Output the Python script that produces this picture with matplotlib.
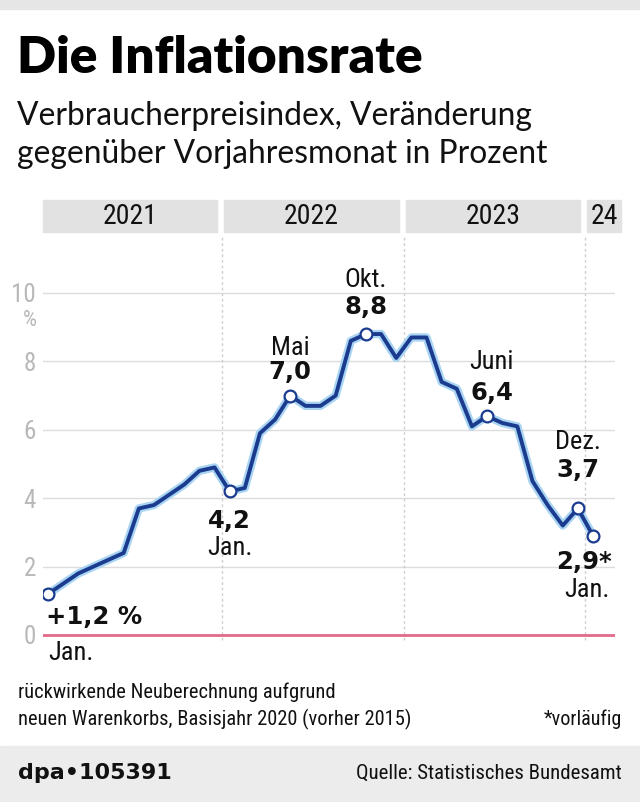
import matplotlib
matplotlib.use("Agg")
import matplotlib.pyplot as plt
import matplotlib.patheffects as pe
from matplotlib import font_manager
from matplotlib.patches import Rectangle

# --- data: Verbraucherpreisindex, Veraenderung zum Vorjahresmonat (%) ---
# monthly, Jan 2021 ... Jan 2024
rate_2021 = [1.2, 1.5, 1.8, 2.0, 2.2, 2.4, 3.7, 3.8, 4.1, 4.4, 4.8, 4.9]
rate_2022 = [4.2, 4.3, 5.9, 6.3, 7.0, 6.7, 6.7, 7.0, 8.6, 8.8, 8.8, 8.1]
rate_2023 = [8.7, 8.7, 7.4, 7.2, 6.1, 6.4, 6.2, 6.1, 4.5, 3.8, 3.2, 3.7]
rate_2024 = [2.9]
rates = rate_2021 + rate_2022 + rate_2023 + rate_2024

years = ["2021", "2022", "2023", "24"]
y_ticks = [0, 2, 4, 6, 8, 10]

# highlighted months: (index, value label, month label)
highlights = [
    (0, "+1,2 %", "Jan."),
    (12, "4,2", "Jan."),
    (16, "7,0", "Mai"),
    (21, "8,8", "Okt."),
    (29, "6,4", "Juni"),
    (35, "3,7", "Dez."),
    (36, "2,9*", "Jan."),
]


# look for a condensed regular face, the dpa graphics use a narrow font
def find_narrow():
    entries = font_manager.fontManager.ttflist
    prefer = ["Roboto Condensed", "Liberation Sans Narrow", "Noto Sans Condensed",
              "Open Sans Condensed", "DejaVu Sans Condensed", "Noto Sans"]
    for name in prefer:
        for f in entries:
            st = str(f.stretch)
            if f.name == name and f.style == "normal" and f.weight in (400, "normal", "regular") \
                    and ("condensed" in st or "Condensed" in name or "Narrow" in name):
                return font_manager.FontProperties(fname=f.fname)
    for f in entries:
        if "condensed" in str(f.stretch) and f.style == "normal" and f.weight in (400, "normal"):
            return font_manager.FontProperties(fname=f.fname)
    return None


narrow_fp = find_narrow()
NARROW_OK = narrow_fp is not None


def nar(size):
    if NARROW_OK:
        p = narrow_fp.copy()
        p.set_size(size)
        return dict(fontproperties=p)
    return dict(family="Roboto", fontsize=size * 0.9)


BOLD = "DejaVu Sans"
HEAD = "Lato"

W, H = 640, 802
fig = plt.figure(figsize=(W / 100, H / 100), dpi=100)


def fx(px):
    return px / W


def fy(py):
    return 1 - py / H


# top gray strip and bottom band
fig.patches.append(Rectangle((0, fy(9)), 1, fy(0) - fy(9), transform=fig.transFigure,
                             color="#e6e6e6", zorder=0))
fig.patches.append(Rectangle((0, 0), 1, fy(746), transform=fig.transFigure,
                             color="#ececec", zorder=0))

fig.text(fx(17), fy(58), "Die Inflationsrate", fontsize=37, fontweight="heavy",
         family=HEAD, va="center", ha="left")
fig.text(fx(17), fy(116), "Verbraucherpreisindex, Veränderung", fontsize=22.9,
         family=HEAD, va="center", ha="left", color="#111111")
fig.text(fx(17), fy(154), "gegenüber Vorjahresmonat in Prozent", fontsize=22.9,
         family=HEAD, va="center", ha="left", color="#111111")

# --- chart area ---
px0, px_per_month = 48.0, 15.14
py0, py_per_unit = 635.0, 34.2
ax_l, ax_r, ax_t, ax_b = 43, 615, 195, 665
ax = fig.add_axes([fx(ax_l), fy(ax_b), fx(ax_r) - fx(ax_l), fy(ax_t) - fy(ax_b)])
ax.set_xlim((ax_l - px0) / px_per_month, (ax_r - px0) / px_per_month)
ax.set_ylim((py0 - ax_b) / py_per_unit, (py0 - ax_t) / py_per_unit)
for s in ax.spines.values():
    s.set_visible(False)
ax.set_xticks([])
ax.set_yticks(y_ticks)
ax.set_yticklabels([str(t) for t in y_ticks])
for lab in ax.get_yticklabels():
    kw = nar(18)
    if "fontproperties" in kw:
        lab.set_fontproperties(kw["fontproperties"])
    else:
        lab.set_family(kw["family"])
        lab.set_fontsize(kw["fontsize"])
    lab.set_color("#b8b8b8")
ax.tick_params(axis="y", length=0, pad=5)
for t in y_ticks[1:]:
    ax.axhline(t, color="#dcdcdc", lw=1, zorder=1)
ax.axhline(0, color="#e36a8a", lw=2, zorder=2)
pct_x = ax.get_xlim()[0] - (ax_l - 37) / px_per_month
ax.text(pct_x, (py0 - 321) / py_per_unit, "%", color="#b8b8b8", ha="right", va="center",
        clip_on=False, **nar(16))

# year band and boundaries
bounds = [-0.5, 11.5, 23.5, 35.5, 38.2]
band_lo, band_hi = (py0 - 232) / py_per_unit, (py0 - 200) / py_per_unit
for k, yr in enumerate(years):
    a = bounds[k] + 0.12 if k else bounds[k] + 0.15
    b = bounds[k + 1] - 0.33
    ax.add_patch(Rectangle((a, band_lo), b - a, band_hi - band_lo, color="#e2e2e2",
                           clip_on=False, zorder=1))
    ax.text((a + b) / 2, (band_lo + band_hi) / 2, yr, ha="center", va="center",
            color="#111111", clip_on=False, **nar(20))
for b in bounds[1:4]:
    ax.plot([b, b], [-0.15, (py0 - 235) / py_per_unit], color="#cfcfcf", lw=1,
            ls=(0, (2, 2)), zorder=1)

# inflation line
months = list(range(len(rates)))
ax.plot(months, rates, color="#1b3b8f", lw=2.8, zorder=4, solid_joinstyle="round",
        path_effects=[pe.Stroke(linewidth=6, foreground="#a9d4f2"), pe.Normal()])
idx = [h[0] for h in highlights]
ax.plot(idx, [rates[i] for i in idx], "o", ms=8.5, mfc="white", mec="#1b3b8f",
        mew=1.6, zorder=5)

# label positions (value, month) in data coordinates
label_pos = {
    0: ((-0.1, 0.53), (0.0, -0.53), "left"),
    12: ((12.0, 3.33), (12.0, 2.54), "center"),
    16: ((16.0, 7.69), (16.0, 8.39), "center"),
    21: ((21.0, 9.59), (21.0, 10.38), "center"),
    29: ((29.3, 7.08), (29.3, 7.98), "center"),
    35: ((35.0, 4.82), (35.0, 5.64), "center"),
    36: ((35.4, 2.13), (35.6, 1.32), "center"),
}
for i, val, mon in highlights:
    (vx, vy), (mx, my), ha = label_pos[i]
    ax.text(vx, vy, val, family=BOLD, fontweight="bold", fontsize=17.5,
            ha=ha, va="center", color="#111111", clip_on=False, zorder=6)
    ax.text(mx, my, mon, ha=ha, va="center", color="#111111", clip_on=False,
            zorder=6, **nar(19))

# footer
fig.text(fx(18), fy(692), "rückwirkende Neuberechnung aufgrund", va="center", ha="left",
         color="#111111", **nar(14.8))
fig.text(fx(18), fy(719), "neuen Warenkorbs, Basisjahr 2020 (vorher 2015)", va="center",
         ha="left", color="#111111", **nar(14.8))
fig.text(fx(622), fy(719), "*vorläufig", va="center", ha="right", color="#111111",
         **nar(14.5))
fig.text(fx(18), fy(773), "dpa\u2022105391", family=BOLD, fontweight="bold", fontsize=16,
         va="center", ha="left", color="#111111")
fig.text(fx(622), fy(773), "Quelle: Statistisches Bundesamt", va="center", ha="right",
         color="#111111", **nar(15))

fig.savefig("out.png", dpi=100)
